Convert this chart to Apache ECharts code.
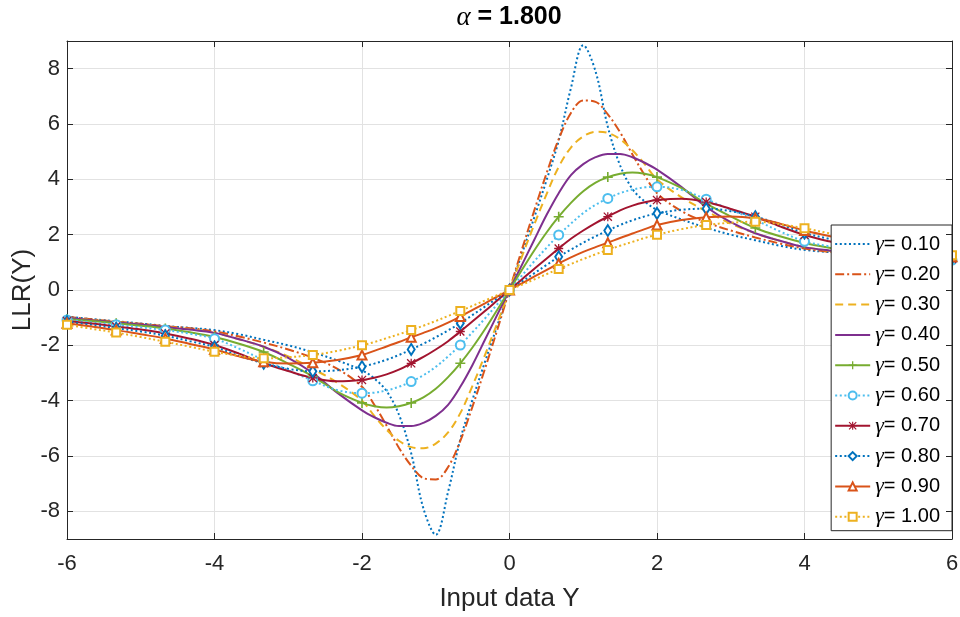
<!DOCTYPE html>
<html><head><meta charset="utf-8">
<script src="https://cdn.jsdelivr.net/npm/echarts@6/dist/echarts.min.js"></script>
<style>html,body{margin:0;padding:0;background:#fff}#c{width:960px;height:617px}</style>
</head><body><div id="c"></div>
<script>
const xValues = [-6,-5.667,-5.333,-5,-4.667,-4.333,-4,-3.667,-3.333,-3,-2.667,-2.333,-2,-1.833,-1.667,-1.5,-1.333,-1.167,-1,-0.833,-0.667,-0.5,-0.333,-0.167,0,0.167,0.333,0.5,0.667,0.833,1,1.167,1.333,1.5,1.667,1.833,2,2.333,2.667,3,3.333,3.667,4,4.333,4.667,5,5.333,5.667,6];

const llrG010 = [-0.96,-1.05,-1.13,-1.21,-1.3,-1.37,-1.45,-1.6,-1.8,-2.0,-2.25,-2.55,-2.9,-3.2,-3.65,-4.5,-5.9,-7.9,-8.85,-7.3,-5.4,-3.95,-2.6,-1.3,0,1.3,2.6,3.95,5.4,7.3,8.85,7.9,5.9,4.5,3.65,3.2,2.9,2.55,2.25,2.0,1.8,1.6,1.45,1.37,1.3,1.21,1.13,1.05,0.96];
const llrG020 = [-0.97,-1.06,-1.14,-1.22,-1.31,-1.38,-1.5,-1.68,-1.9,-2.15,-2.45,-2.85,-3.5,-4.15,-4.9,-5.7,-6.35,-6.8,-6.85,-6.4,-5.45,-4.2,-2.85,-1.45,0,1.45,2.85,4.2,5.45,6.4,6.85,6.8,6.35,5.7,4.9,4.15,3.5,2.85,2.45,2.15,1.9,1.68,1.5,1.38,1.31,1.22,1.14,1.06,0.97];
const llrG030 = [-0.99,-1.08,-1.16,-1.24,-1.33,-1.42,-1.55,-1.78,-2.05,-2.4,-2.85,-3.35,-4.0,-4.55,-5.05,-5.45,-5.68,-5.72,-5.55,-5.15,-4.45,-3.45,-2.35,-1.2,0,1.2,2.35,3.45,4.45,5.15,5.55,5.72,5.68,5.45,5.05,4.55,4.0,3.35,2.85,2.4,2.05,1.78,1.55,1.42,1.33,1.24,1.16,1.08,0.99];
const llrG040 = [-1.0,-1.09,-1.17,-1.25,-1.34,-1.43,-1.55,-1.78,-2.05,-2.45,-3.0,-3.72,-4.35,-4.6,-4.8,-4.92,-4.92,-4.8,-4.55,-4.15,-3.5,-2.7,-1.8,-0.9,0,0.9,1.8,2.7,3.5,4.15,4.55,4.8,4.92,4.92,4.8,4.6,4.35,3.72,3.0,2.45,2.05,1.78,1.55,1.43,1.34,1.25,1.17,1.09,1.0];
const llrG050 = [-1.05,-1.12,-1.2,-1.29,-1.39,-1.53,-1.7,-1.94,-2.24,-2.66,-3.12,-3.68,-4.08,-4.2,-4.25,-4.2,-4.08,-3.88,-3.57,-3.15,-2.65,-2.07,-1.42,-0.72,0,0.72,1.42,2.07,2.65,3.15,3.57,3.88,4.08,4.2,4.25,4.2,4.08,3.68,3.12,2.66,2.24,1.94,1.7,1.53,1.39,1.29,1.2,1.12,1.05];
const llrG060 = [-1.08,-1.17,-1.26,-1.35,-1.45,-1.58,-1.76,-2.12,-2.53,-2.9,-3.28,-3.62,-3.73,-3.71,-3.63,-3.5,-3.31,-3.08,-2.78,-2.4,-1.99,-1.52,-1.03,-0.52,0,0.52,1.03,1.52,1.99,2.4,2.78,3.08,3.31,3.5,3.63,3.71,3.73,3.62,3.28,2.9,2.53,2.12,1.76,1.58,1.45,1.35,1.26,1.17,1.08];
const llrG070 = [-1.12,-1.21,-1.32,-1.43,-1.57,-1.76,-1.99,-2.3,-2.65,-2.93,-3.18,-3.3,-3.25,-3.17,-3.05,-2.88,-2.65,-2.42,-2.15,-1.85,-1.5,-1.13,-0.76,-0.38,0,0.38,0.76,1.13,1.5,1.85,2.15,2.42,2.65,2.88,3.05,3.17,3.25,3.3,3.18,2.93,2.65,2.3,1.99,1.76,1.57,1.43,1.32,1.21,1.12];
const llrG080 = [-1.15,-1.26,-1.38,-1.5,-1.65,-1.85,-2.06,-2.38,-2.65,-2.85,-2.94,-2.9,-2.77,-2.66,-2.52,-2.35,-2.15,-1.94,-1.71,-1.46,-1.2,-0.9,-0.6,-0.3,0,0.3,0.6,0.9,1.2,1.46,1.71,1.94,2.15,2.35,2.52,2.66,2.77,2.9,2.94,2.85,2.65,2.38,2.06,1.85,1.65,1.5,1.38,1.26,1.15];
const llrG090 = [-1.2,-1.32,-1.45,-1.6,-1.75,-1.95,-2.15,-2.4,-2.59,-2.66,-2.63,-2.53,-2.35,-2.2,-2.04,-1.88,-1.71,-1.55,-1.38,-1.18,-0.96,-0.72,-0.48,-0.24,0,0.24,0.48,0.72,0.96,1.18,1.38,1.55,1.71,1.88,2.04,2.2,2.35,2.53,2.63,2.66,2.59,2.4,2.15,1.95,1.75,1.6,1.45,1.32,1.2];
const llrG100 = [-1.26,-1.4,-1.54,-1.7,-1.87,-2.05,-2.23,-2.38,-2.47,-2.43,-2.35,-2.2,-2.0,-1.88,-1.74,-1.6,-1.45,-1.29,-1.12,-0.94,-0.76,-0.57,-0.38,-0.19,0,0.19,0.38,0.57,0.76,0.94,1.12,1.29,1.45,1.6,1.74,1.88,2.0,2.2,2.35,2.43,2.47,2.38,2.23,2.05,1.87,1.7,1.54,1.4,1.26];

const seriesNames = ['γ= 0.10','γ= 0.20','γ= 0.30','γ= 0.40','γ= 0.50','γ= 0.60','γ= 0.70','γ= 0.80','γ= 0.90','γ= 1.00'];
const seriesValues = [llrG010,llrG020,llrG030,llrG040,llrG050,llrG060,llrG070,llrG080,llrG090,llrG100];
const xTickValues = [-6,-4,-2,0,2,4,6];
const yTickValues = [-8,-6,-4,-2,0,2,4,6,8];
const titleText = '{a|α} = 1.800';
const xAxisTitle = 'Input data Y';
const yAxisTitle = 'LLR(Y)';

const FONT = 'Liberation Sans';
const AX = '#262626';
const dotted = [2, 2.6];
const styles = [
  {color:'#0072BD', dash:dotted, symbol:null},
  {color:'#D95319', dash:[9,3,2,3], symbol:null},
  {color:'#EDB120', dash:[8,5], symbol:null},
  {color:'#7E2F8E', dash:'solid', symbol:null},
  {color:'#77AC30', dash:'solid', symbol:'path://M4.2,0H5.8V4.2H10V5.8H5.8V10H4.2V5.8H0V4.2H4.2Z', size:10, filled:true},
  {color:'#4DBEEE', dash:dotted, symbol:'emptyCircle', size:9},
  {color:'#A2142F', dash:'solid', symbol:'path://M4.3,0H5.7V10H4.3Z M0,4.3H10V5.7H0Z M1,0L10,9L9,10L0,1Z M9,0L10,1L1,10L0,9Z', size:9, filled:true},
  {color:'#0072BD', dash:dotted, symbol:'emptyDiamond', size:[7,11]},
  {color:'#D95319', dash:'solid', symbol:'emptyTriangle', size:9},
  {color:'#EDB120', dash:dotted, symbol:'emptyRect', size:8}
];

function isMarkerX(x){ const k = x*1.5; return Math.abs(k-Math.round(k)) < 0.01; }

const series = seriesNames.map((name, si) => {
  const st = styles[si];
  const ys = seriesValues[si];
  const data = xValues.map((x, i) => {
    if (st.symbol && isMarkerX(x)) return [x, ys[i]];
    return {value:[x, ys[i]], symbol:'none'};
  });
  return {
    type:'line', name, data,
    smooth:0.35,
    symbol: st.symbol || 'none',
    symbolSize: st.size || 8,
    showSymbol: !!st.symbol,
    lineStyle:{color:st.color, width:2, type:st.dash},
    itemStyle:{color:st.color, borderColor:st.color, borderWidth: st.filled ? 0 : 1.5},
    emphasis:{disabled:true},
    z: 2
  };
});

const legendData = seriesNames.map((name, si) => styles[si].symbol ? {name} : {name, itemStyle:{opacity:0}});

const chart = echarts.init(document.getElementById('c'), null, {renderer:'canvas'});
chart.setOption({
  animation:false,
  backgroundColor:'#fff',
  title:{
    text:titleText, left:509, top:4, textAlign:'center', padding:0,
    textStyle:{fontFamily:FONT, fontSize:25, fontWeight:'bold', color:'#000',
      rich:{a:{fontFamily:'Liberation Serif', fontStyle:'italic', fontWeight:'normal', fontSize:27, color:'#000'}}}
  },
  grid:{left:67, right:8, top:41, bottom:78, show:false, containLabel:false, outerBoundsMode:'none'},
  legend:{
    orient:'vertical', right:8, top:225, data:legendData,
    selectedMode:false,
    backgroundColor:'#fff', borderColor:'#262626', borderWidth:1, borderRadius:0,
    padding:[8,12,3,3], itemWidth:35, itemHeight:10, itemGap:8.3,
    formatter: n => '{g|γ}' + n.slice(1),
    textStyle:{fontFamily:FONT, fontSize:20, color:'#000', lineHeight:20,
      rich:{g:{fontFamily:'Liberation Serif', fontStyle:'italic', fontSize:22, lineHeight:20, color:'#000'}}},
    z:10
  },
  xAxis:[
    {type:'value', min:-6, max:6, interval:2, position:'bottom',
     name:xAxisTitle, nameLocation:'middle', nameGap:47, nameMoveOverlap:false,
     nameTextStyle:{fontFamily:FONT, fontSize:26, color:AX},
     axisLine:{show:true, onZero:false, lineStyle:{color:AX, width:1}},
     axisTick:{show:true, inside:true, length:6, lineStyle:{color:AX}},
     axisLabel:{show:true, fontFamily:FONT, fontSize:22, color:AX, margin:14, customValues:xTickValues},
     splitLine:{show:true, lineStyle:{color:'#e2e2e2', width:1}}},
    {type:'value', min:-6, max:6, interval:2, position:'top',
     axisLine:{show:true, onZero:false, lineStyle:{color:AX, width:1}},
     axisTick:{show:true, inside:true, length:6, lineStyle:{color:AX}},
     axisLabel:{show:false}, splitLine:{show:false}}
  ],
  yAxis:[
    {type:'value', min:-9, max:9, position:'left',
     name:yAxisTitle, nameLocation:'middle', nameGap:31, nameMoveOverlap:false,
     nameTextStyle:{fontFamily:FONT, fontSize:26, color:AX},
     axisLine:{show:true, onZero:false, lineStyle:{color:AX, width:1}},
     axisTick:{show:true, inside:true, length:6, lineStyle:{color:AX}, customValues:yTickValues},
     axisLabel:{show:true, fontFamily:FONT, fontSize:22, color:AX, margin:7, customValues:yTickValues},
     splitLine:{show:true, lineStyle:{color:'#e2e2e2', width:1}}},
    {type:'value', min:-9, max:9, position:'right', z:12,
     axisLine:{show:true, onZero:false, lineStyle:{color:AX, width:1}},
     axisTick:{show:true, inside:true, length:6, lineStyle:{color:AX}, customValues:yTickValues},
     axisLabel:{show:false}, splitLine:{show:false}}
  ],
  series
});
</script>
</body></html>
